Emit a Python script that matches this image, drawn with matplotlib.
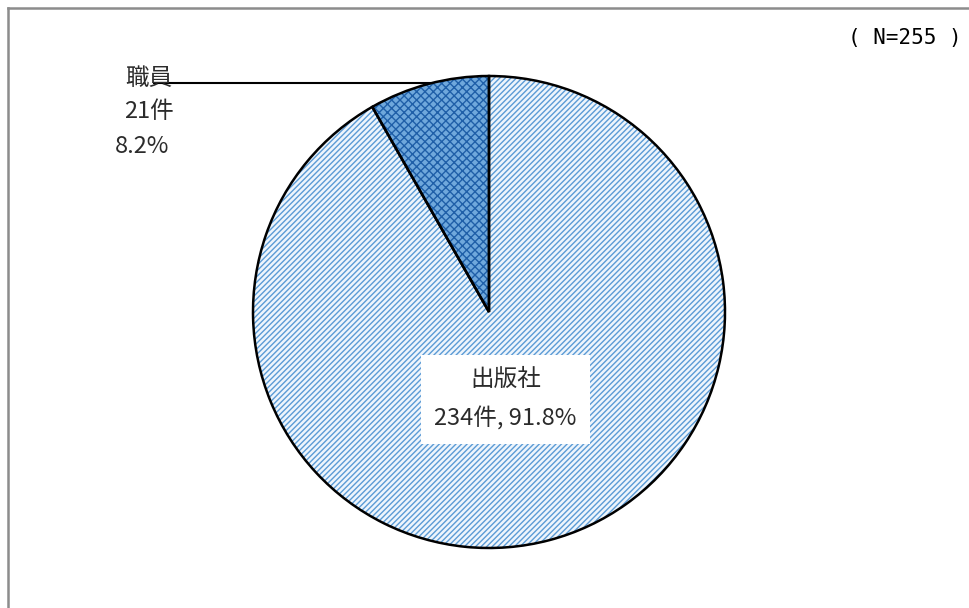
import matplotlib.pyplot as plt
from matplotlib.lines import Line2D

plt.rcParams['font.family'] = ['Noto Sans CJK JP', 'DejaVu Sans']
plt.rcParams['hatch.linewidth'] = 1.0

labels = ['職員', '出版社']
counts = [21, 234]
shares = [8.2, 91.8]
total = 255

W, H = 970, 608
fig = plt.figure(figsize=(W / 100, H / 100), dpi=100)

# pie centre ~ (489, 312) px, radius ~ 236 px
cx, cy, r = 489, 312, 236
ax = fig.add_axes([(cx - r) / W, (H - cy - r) / H, 2 * r / W, 2 * r / H])

faces = ['#6fa8dc', '#eef5fc']
hatch_cols = ['#1f5fa8', '#5b9bd5']
hatches = ['xxxx', '//////']

# hatched fill first (hatch colour follows edgecolor)
wedges, _ = ax.pie(counts, startangle=90, counterclock=True, radius=1,
                   colors=faces, wedgeprops=dict(linewidth=0))
for w, hc, h in zip(wedges, hatch_cols, hatches):
    w.set_hatch(h)
    w.set_edgecolor(hc)

# black outlines on top
ax.pie(counts, startangle=90, counterclock=True, radius=1,
       wedgeprops=dict(fill=False, edgecolor='black', linewidth=1.8))

ax.set_xlim(-1, 1)
ax.set_ylim(-1, 1)
ax.set_aspect('equal')

txt = '#2b2b2b'
fs = 17

# 職員 label with leader line
ax.plot([-0.25, -1.42], [0.97, 0.97], color='black', lw=1.5, clip_on=False)
lx = -1.44
ax.text(lx, 0.99, labels[0], ha='center', va='center', fontsize=fs, color=txt)
ax.text(lx, 0.85, f'{counts[0]}件', ha='center', va='center', fontsize=fs, color=txt)
ax.text(lx - 0.03, 0.70, f'{shares[0]}%', ha='center', va='center', fontsize=fs, color=txt)

# 出版社 label in white box
ax.text(0.07, -0.37, f'{labels[1]}\n{counts[1]}件, {shares[1]}%', ha='center', va='center',
        fontsize=fs, color=txt, linespacing=1.85,
        bbox=dict(boxstyle='square,pad=0.55', facecolor='white', edgecolor='none'))

fig.text(905 / W, 1 - 38 / H, '( N=255 )', ha='center', va='center', fontsize=15,
         family=['DejaVu Sans Mono', 'Noto Sans CJK JP'], color='black')

# outer frame (top and left visible)
fig.add_artist(Line2D([8 / W, 1.0], [1 - 8 / H, 1 - 8 / H], color='#8c8c8c', lw=1.8))
fig.add_artist(Line2D([8 / W, 8 / W], [1 - 8 / H, 0.0], color='#8c8c8c', lw=1.8))

fig.savefig('out.png', dpi=100)
